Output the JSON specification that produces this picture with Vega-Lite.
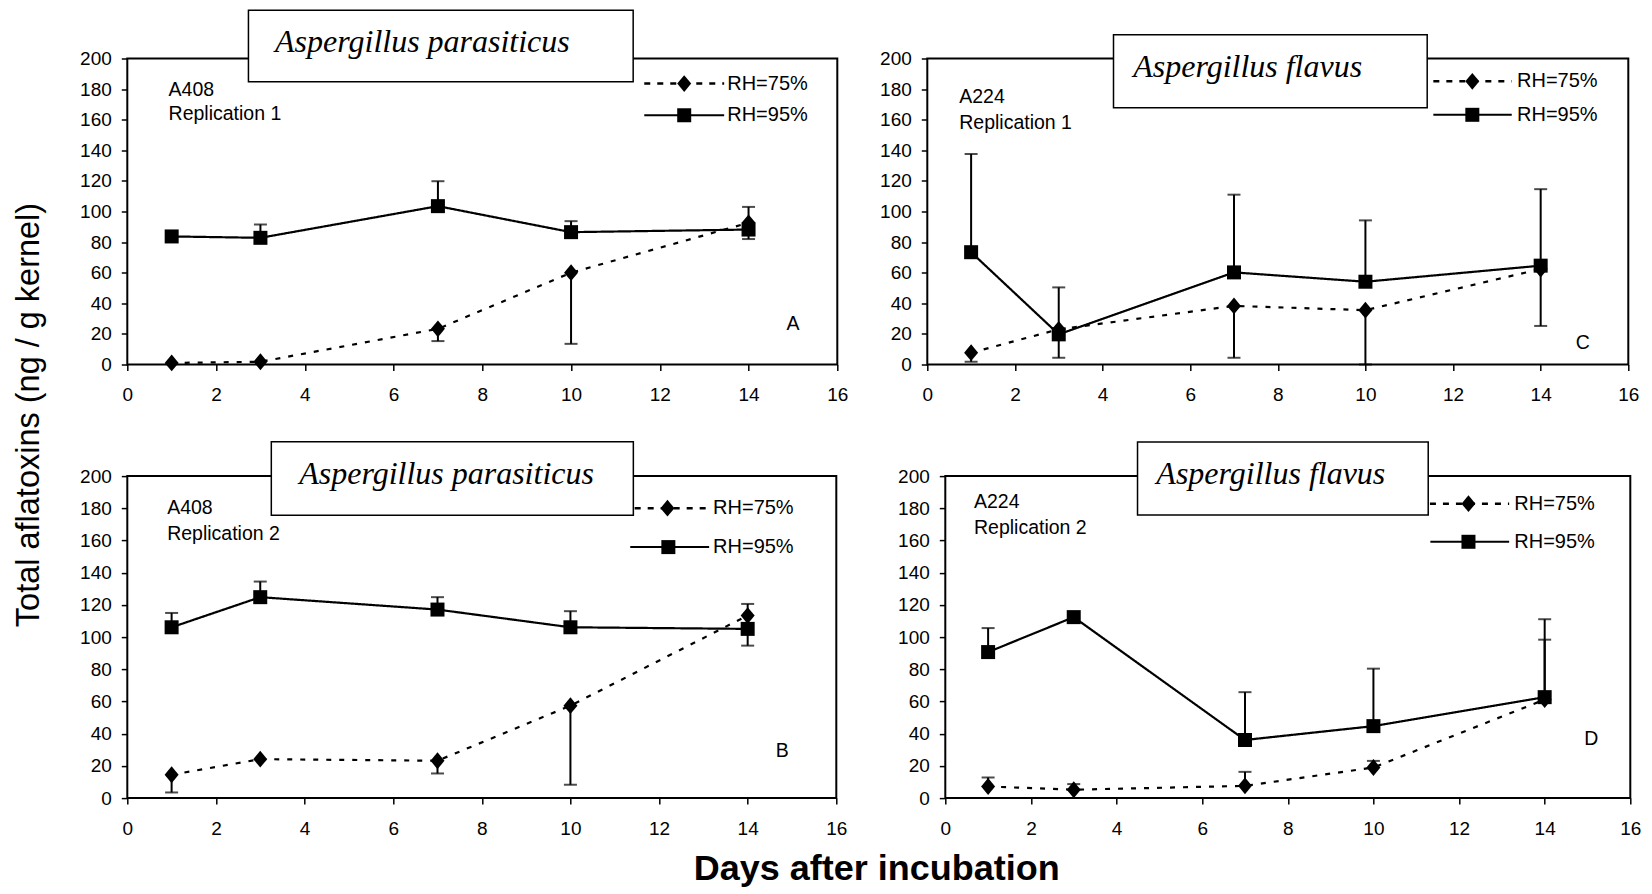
{
  "$schema": "https://vega.github.io/schema/vega-lite/v6.json",
  "background": "white",
  "padding": {"left": 10.3, "top": 7.5, "right": 5, "bottom": 5},
  "autosize": {"type": "pad"},
  "bounds": "flush",
  "spacing": 417.6,
  "config": {
    "view": {"stroke": "black", "strokeWidth": 2},
    "axis": {"domain": false, "grid": false, "ticks": true, "tickColor": "black", "tickWidth": 1.5, "tickSize": 6, "labelFont": "Liberation Sans", "labelFontSize": 19, "labelColor": "black", "labelFlush": false, "labelOverlap": false, "titleFont": "Liberation Sans", "titleColor": "black"},
    "axisY": {"labelPadding": 10, "tickCount": 11},
    "axisX": {"labelPadding": 15, "tickCount": 9},
    "text": {"font": "Liberation Sans", "color": "black"}
  },
  "datasets": {
    "main": [
      {"panel": "A", "rh": "RH=75%", "day": 1, "value": 1, "err": null},
      {"panel": "A", "rh": "RH=75%", "day": 3, "value": 1.8, "err": null},
      {"panel": "A", "rh": "RH=75%", "day": 7, "value": 23.3, "err": 15.3},
      {"panel": "A", "rh": "RH=75%", "day": 10, "value": 60, "err": 13.5},
      {"panel": "A", "rh": "RH=75%", "day": 14, "value": 92.6, "err": 82},
      {"panel": "A", "rh": "RH=95%", "day": 1, "value": 83.7, "err": null},
      {"panel": "A", "rh": "RH=95%", "day": 3, "value": 82.8, "err": 91.5},
      {"panel": "A", "rh": "RH=95%", "day": 7, "value": 103.5, "err": 119.8},
      {"panel": "A", "rh": "RH=95%", "day": 10, "value": 86.5, "err": 93.7},
      {"panel": "A", "rh": "RH=95%", "day": 14, "value": 88.2, "err": 103},
      {"panel": "B", "rh": "RH=75%", "day": 1, "value": 14.5, "err": 3.5},
      {"panel": "B", "rh": "RH=75%", "day": 3, "value": 24.2, "err": null},
      {"panel": "B", "rh": "RH=75%", "day": 7, "value": 23.2, "err": 15.3},
      {"panel": "B", "rh": "RH=75%", "day": 10, "value": 57.4, "err": 8.3},
      {"panel": "B", "rh": "RH=75%", "day": 14, "value": 113.4, "err": 94.7},
      {"panel": "B", "rh": "RH=95%", "day": 1, "value": 106.1, "err": 115},
      {"panel": "B", "rh": "RH=95%", "day": 3, "value": 124.8, "err": 134.5},
      {"panel": "B", "rh": "RH=95%", "day": 7, "value": 117.1, "err": 124.8},
      {"panel": "B", "rh": "RH=95%", "day": 10, "value": 106.1, "err": 116.1},
      {"panel": "B", "rh": "RH=95%", "day": 14, "value": 105.1, "err": 120.6},
      {"panel": "C", "rh": "RH=75%", "day": 1, "value": 7.7, "err": 1.8},
      {"panel": "C", "rh": "RH=75%", "day": 3, "value": 23, "err": 4.4},
      {"panel": "C", "rh": "RH=75%", "day": 7, "value": 38.3, "err": 4.4},
      {"panel": "C", "rh": "RH=75%", "day": 10, "value": 35.5, "err": 0},
      {"panel": "C", "rh": "RH=75%", "day": 14, "value": 62.4, "err": 25.2},
      {"panel": "C", "rh": "RH=95%", "day": 1, "value": 73.4, "err": 137.6},
      {"panel": "C", "rh": "RH=95%", "day": 3, "value": 19.7, "err": 50.4},
      {"panel": "C", "rh": "RH=95%", "day": 7, "value": 60.2, "err": 111},
      {"panel": "C", "rh": "RH=95%", "day": 10, "value": 54.1, "err": 94.2},
      {"panel": "C", "rh": "RH=95%", "day": 14, "value": 64.6, "err": 114.6},
      {"panel": "D", "rh": "RH=75%", "day": 1, "value": 7.2, "err": 12.8},
      {"panel": "D", "rh": "RH=75%", "day": 3, "value": 5.2, "err": 8.7},
      {"panel": "D", "rh": "RH=75%", "day": 7, "value": 7.6, "err": 16.3},
      {"panel": "D", "rh": "RH=75%", "day": 10, "value": 19, "err": 23.1},
      {"panel": "D", "rh": "RH=75%", "day": 14, "value": 61.2, "err": 98.4},
      {"panel": "D", "rh": "RH=95%", "day": 1, "value": 90.7, "err": 105.6},
      {"panel": "D", "rh": "RH=95%", "day": 3, "value": 112.4, "err": null},
      {"panel": "D", "rh": "RH=95%", "day": 7, "value": 36.1, "err": 65.8},
      {"panel": "D", "rh": "RH=95%", "day": 10, "value": 44.7, "err": 80.4},
      {"panel": "D", "rh": "RH=95%", "day": 14, "value": 62.7, "err": 111.1}
    ]
  },
  "data": {"name": "main"},
  "vconcat": [
    {
      "bounds": "flush",
      "spacing": 90,
      "hconcat": [
        {
          "width": 710, "height": 306,
          "transform": [{"filter": "datum.panel === 'A'"}],
          "layer": [
            {"mark": {"type": "line", "color": "black", "strokeWidth": 2.2},
             "encoding": {
               "x": {"field": "day", "type": "quantitative", "scale": {"domain": [0, 16], "nice": false}, "axis": {"values": [0, 2, 4, 6, 8, 10, 12, 14, 16], "tickCount": 9, "title": null, "labelOverlap": false}},
               "y": {"field": "value", "type": "quantitative", "scale": {"domain": [0, 200], "nice": false}, "axis": {"values": [0, 20, 40, 60, 80, 100, 120, 140, 160, 180, 200], "tickCount": 11, "labelOverlap": false, "title": "Total aflatoxins (ng / g kernel)", "titleFontSize": 32.5, "titleFontWeight": "normal", "titleX": -89.2, "titleY": 356, "titleAngle": -90, "titleBaseline": "alphabetic", "titleAlign": "center"}},
               "strokeDash": {"field": "rh", "type": "nominal", "scale": {"domain": ["RH=75%", "RH=95%"], "range": [[5, 8], [1, 0]]}, "legend": null}
             }},
            {"transform": [{"filter": "isValid(datum.err)"}], "mark": {"type": "rule", "color": "black", "strokeWidth": 2},
             "encoding": {"x": {"field": "day", "type": "quantitative"}, "y": {"field": "value", "type": "quantitative"}, "y2": {"field": "err"}}},
            {"transform": [{"filter": "isValid(datum.err)"}], "mark": {"type": "tick", "orient": "horizontal", "color": "black", "thickness": 2, "size": 13},
             "encoding": {"x": {"field": "day", "type": "quantitative"}, "y": {"field": "err", "type": "quantitative"}}},
            {"mark": {"type": "point", "filled": true, "color": "black", "opacity": 1, "strokeWidth": 0, "size": 196},
             "encoding": {"x": {"field": "day", "type": "quantitative"}, "y": {"field": "value", "type": "quantitative"},
               "shape": {"field": "rh", "type": "nominal", "scale": {"domain": ["RH=75%", "RH=95%"], "range": ["M0,-1.2L1,0L0,1.2L-1,0Z", "square"]}, "legend": null}}},
            {"data": {"values": [{}]}, "mark": {"type": "rule", "color": "black", "strokeWidth": 2.5, "strokeDash": [6, 7]},
             "encoding": {"x": {"datum": 11.65, "type": "quantitative"}, "x2": {"datum": 13.45}, "y": {"datum": 183.6, "type": "quantitative"}}},
            {"data": {"values": [{}]}, "mark": {"type": "rule", "color": "black", "strokeWidth": 2},
             "encoding": {"x": {"datum": 11.65, "type": "quantitative"}, "x2": {"datum": 13.45}, "y": {"datum": 162.9, "type": "quantitative"}}},
            {"data": {"values": [{}]}, "mark": {"type": "point", "filled": true, "color": "black", "opacity": 1, "strokeWidth": 0, "size": 196, "shape": "M0,-1.2L1,0L0,1.2L-1,0Z"},
             "encoding": {"x": {"datum": 12.55, "type": "quantitative"}, "y": {"datum": 183.6, "type": "quantitative"}}},
            {"data": {"values": [{}]}, "mark": {"type": "point", "filled": true, "color": "black", "opacity": 1, "strokeWidth": 0, "size": 196, "shape": "square"},
             "encoding": {"x": {"datum": 12.55, "type": "quantitative"}, "y": {"datum": 162.9, "type": "quantitative"}}},
            {"data": {"values": [{}]}, "mark": {"type": "text", "fontSize": 20, "align": "left", "baseline": "middle"},
             "encoding": {"x": {"datum": 13.52, "type": "quantitative"}, "y": {"datum": 183.6, "type": "quantitative"}, "text": {"value": "RH=75%"}}},
            {"data": {"values": [{}]}, "mark": {"type": "text", "fontSize": 20, "align": "left", "baseline": "middle"},
             "encoding": {"x": {"datum": 13.52, "type": "quantitative"}, "y": {"datum": 162.9, "type": "quantitative"}, "text": {"value": "RH=95%"}}},
            {"data": {"values": [{}]}, "mark": {"type": "rect", "fill": "white", "stroke": "black", "strokeWidth": 1.5},
             "encoding": {"x": {"datum": 2.73, "type": "quantitative"}, "x2": {"datum": 11.4}, "y": {"datum": 231.6, "type": "quantitative"}, "y2": {"datum": 184.8}}},
            {"data": {"values": [{}]}, "mark": {"type": "text", "font": "Liberation Serif", "fontStyle": "italic", "fontSize": 32, "align": "left", "baseline": "alphabetic"},
             "encoding": {"x": {"datum": 3.33, "type": "quantitative"}, "y": {"datum": 204.4, "type": "quantitative"}, "text": {"value": "Aspergillus parasiticus"}}},
            {"data": {"values": [{}]}, "mark": {"type": "text", "fontSize": 19.5, "align": "left", "baseline": "middle"},
             "encoding": {"x": {"datum": 0.93, "type": "quantitative"}, "y": {"datum": 179.5, "type": "quantitative"}, "text": {"value": "A408"}}},
            {"data": {"values": [{}]}, "mark": {"type": "text", "fontSize": 19.5, "align": "left", "baseline": "middle"},
             "encoding": {"x": {"datum": 0.93, "type": "quantitative"}, "y": {"datum": 163.5, "type": "quantitative"}, "text": {"value": "Replication 1"}}},
            {"data": {"values": [{}]}, "mark": {"type": "text", "fontSize": 19.5, "align": "center", "baseline": "middle"},
             "encoding": {"x": {"datum": 15.0, "type": "quantitative"}, "y": {"datum": 26.6, "type": "quantitative"}, "text": {"value": "A"}}}
          ]
        },
        {
          "width": 701, "height": 306,
          "transform": [{"filter": "datum.panel === 'C'"}],
          "layer": [
            {"mark": {"type": "line", "color": "black", "strokeWidth": 2.2},
             "encoding": {
               "x": {"field": "day", "type": "quantitative", "scale": {"domain": [0, 16], "nice": false}, "axis": {"values": [0, 2, 4, 6, 8, 10, 12, 14, 16], "tickCount": 9, "title": null, "labelOverlap": false}},
               "y": {"field": "value", "type": "quantitative", "scale": {"domain": [0, 200], "nice": false}, "axis": {"values": [0, 20, 40, 60, 80, 100, 120, 140, 160, 180, 200], "tickCount": 11, "title": null, "labelOverlap": false}},
               "strokeDash": {"field": "rh", "type": "nominal", "scale": {"domain": ["RH=75%", "RH=95%"], "range": [[5, 8], [1, 0]]}, "legend": null}
             }},
            {"transform": [{"filter": "isValid(datum.err)"}], "mark": {"type": "rule", "color": "black", "strokeWidth": 2},
             "encoding": {"x": {"field": "day", "type": "quantitative"}, "y": {"field": "value", "type": "quantitative"}, "y2": {"field": "err"}}},
            {"transform": [{"filter": "isValid(datum.err)"}], "mark": {"type": "tick", "orient": "horizontal", "color": "black", "thickness": 2, "size": 13},
             "encoding": {"x": {"field": "day", "type": "quantitative"}, "y": {"field": "err", "type": "quantitative"}}},
            {"mark": {"type": "point", "filled": true, "color": "black", "opacity": 1, "strokeWidth": 0, "size": 196},
             "encoding": {"x": {"field": "day", "type": "quantitative"}, "y": {"field": "value", "type": "quantitative"},
               "shape": {"field": "rh", "type": "nominal", "scale": {"domain": ["RH=75%", "RH=95%"], "range": ["M0,-1.2L1,0L0,1.2L-1,0Z", "square"]}, "legend": null}}},
            {"data": {"values": [{}]}, "mark": {"type": "rule", "color": "black", "strokeWidth": 2.5, "strokeDash": [6, 7]},
             "encoding": {"x": {"datum": 11.55, "type": "quantitative"}, "x2": {"datum": 13.34}, "y": {"datum": 185.1, "type": "quantitative"}}},
            {"data": {"values": [{}]}, "mark": {"type": "rule", "color": "black", "strokeWidth": 2},
             "encoding": {"x": {"datum": 11.55, "type": "quantitative"}, "x2": {"datum": 13.34}, "y": {"datum": 163.2, "type": "quantitative"}}},
            {"data": {"values": [{}]}, "mark": {"type": "point", "filled": true, "color": "black", "opacity": 1, "strokeWidth": 0, "size": 196, "shape": "M0,-1.2L1,0L0,1.2L-1,0Z"},
             "encoding": {"x": {"datum": 12.44, "type": "quantitative"}, "y": {"datum": 185.1, "type": "quantitative"}}},
            {"data": {"values": [{}]}, "mark": {"type": "point", "filled": true, "color": "black", "opacity": 1, "strokeWidth": 0, "size": 196, "shape": "square"},
             "encoding": {"x": {"datum": 12.44, "type": "quantitative"}, "y": {"datum": 163.2, "type": "quantitative"}}},
            {"data": {"values": [{}]}, "mark": {"type": "text", "fontSize": 20, "align": "left", "baseline": "middle"},
             "encoding": {"x": {"datum": 13.46, "type": "quantitative"}, "y": {"datum": 185.1, "type": "quantitative"}, "text": {"value": "RH=75%"}}},
            {"data": {"values": [{}]}, "mark": {"type": "text", "fontSize": 20, "align": "left", "baseline": "middle"},
             "encoding": {"x": {"datum": 13.46, "type": "quantitative"}, "y": {"datum": 163.2, "type": "quantitative"}, "text": {"value": "RH=95%"}}},
            {"data": {"values": [{}]}, "mark": {"type": "rect", "fill": "white", "stroke": "black", "strokeWidth": 1.5},
             "encoding": {"x": {"datum": 4.25, "type": "quantitative"}, "x2": {"datum": 11.41}, "y": {"datum": 215.6, "type": "quantitative"}, "y2": {"datum": 167.8}}},
            {"data": {"values": [{}]}, "mark": {"type": "text", "font": "Liberation Serif", "fontStyle": "italic", "fontSize": 32, "align": "left", "baseline": "alphabetic"},
             "encoding": {"x": {"datum": 4.7, "type": "quantitative"}, "y": {"datum": 187.9, "type": "quantitative"}, "text": {"value": "Aspergillus flavus"}}},
            {"data": {"values": [{}]}, "mark": {"type": "text", "fontSize": 19.5, "align": "left", "baseline": "middle"},
             "encoding": {"x": {"datum": 0.73, "type": "quantitative"}, "y": {"datum": 174.6, "type": "quantitative"}, "text": {"value": "A224"}}},
            {"data": {"values": [{}]}, "mark": {"type": "text", "fontSize": 19.5, "align": "left", "baseline": "middle"},
             "encoding": {"x": {"datum": 0.73, "type": "quantitative"}, "y": {"datum": 157.7, "type": "quantitative"}, "text": {"value": "Replication 1"}}},
            {"data": {"values": [{}]}, "mark": {"type": "text", "fontSize": 19.5, "align": "center", "baseline": "middle"},
             "encoding": {"x": {"datum": 14.96, "type": "quantitative"}, "y": {"datum": 14.2, "type": "quantitative"}, "text": {"value": "C"}}}
          ]
        }
      ]
    },
    {
      "bounds": "flush",
      "spacing": 109,
      "hconcat": [
        {
          "width": 709, "height": 322,
          "transform": [{"filter": "datum.panel === 'B'"}],
          "layer": [
            {"mark": {"type": "line", "color": "black", "strokeWidth": 2.2},
             "encoding": {
               "x": {"field": "day", "type": "quantitative", "scale": {"domain": [0, 16], "nice": false}, "axis": {"values": [0, 2, 4, 6, 8, 10, 12, 14, 16], "tickCount": 9, "labelOverlap": false, "title": "Days after incubation", "titleFontSize": 36, "titleFontWeight": "bold", "titleX": 749, "titleY": 81, "titleAngle": 0, "titleBaseline": "alphabetic", "titleAlign": "center"}},
               "y": {"field": "value", "type": "quantitative", "scale": {"domain": [0, 200], "nice": false}, "axis": {"values": [0, 20, 40, 60, 80, 100, 120, 140, 160, 180, 200], "tickCount": 11, "title": null, "labelOverlap": false}},
               "strokeDash": {"field": "rh", "type": "nominal", "scale": {"domain": ["RH=75%", "RH=95%"], "range": [[5, 8], [1, 0]]}, "legend": null}
             }},
            {"transform": [{"filter": "isValid(datum.err)"}], "mark": {"type": "rule", "color": "black", "strokeWidth": 2},
             "encoding": {"x": {"field": "day", "type": "quantitative"}, "y": {"field": "value", "type": "quantitative"}, "y2": {"field": "err"}}},
            {"transform": [{"filter": "isValid(datum.err)"}], "mark": {"type": "tick", "orient": "horizontal", "color": "black", "thickness": 2, "size": 13},
             "encoding": {"x": {"field": "day", "type": "quantitative"}, "y": {"field": "err", "type": "quantitative"}}},
            {"mark": {"type": "point", "filled": true, "color": "black", "opacity": 1, "strokeWidth": 0, "size": 196},
             "encoding": {"x": {"field": "day", "type": "quantitative"}, "y": {"field": "value", "type": "quantitative"},
               "shape": {"field": "rh", "type": "nominal", "scale": {"domain": ["RH=75%", "RH=95%"], "range": ["M0,-1.2L1,0L0,1.2L-1,0Z", "square"]}, "legend": null}}},
            {"data": {"values": [{}]}, "mark": {"type": "rule", "color": "black", "strokeWidth": 2.5, "strokeDash": [6, 7]},
             "encoding": {"x": {"datum": 11.45, "type": "quantitative"}, "x2": {"datum": 13.13}, "y": {"datum": 180.1, "type": "quantitative"}}},
            {"data": {"values": [{}]}, "mark": {"type": "rule", "color": "black", "strokeWidth": 2},
             "encoding": {"x": {"datum": 11.35, "type": "quantitative"}, "x2": {"datum": 13.13}, "y": {"datum": 155.9, "type": "quantitative"}}},
            {"data": {"values": [{}]}, "mark": {"type": "point", "filled": true, "color": "black", "opacity": 1, "strokeWidth": 0, "size": 196, "shape": "M0,-1.2L1,0L0,1.2L-1,0Z"},
             "encoding": {"x": {"datum": 12.19, "type": "quantitative"}, "y": {"datum": 180.1, "type": "quantitative"}}},
            {"data": {"values": [{}]}, "mark": {"type": "point", "filled": true, "color": "black", "opacity": 1, "strokeWidth": 0, "size": 196, "shape": "square"},
             "encoding": {"x": {"datum": 12.21, "type": "quantitative"}, "y": {"datum": 155.9, "type": "quantitative"}}},
            {"data": {"values": [{}]}, "mark": {"type": "text", "fontSize": 20, "align": "left", "baseline": "middle"},
             "encoding": {"x": {"datum": 13.22, "type": "quantitative"}, "y": {"datum": 180.1, "type": "quantitative"}, "text": {"value": "RH=75%"}}},
            {"data": {"values": [{}]}, "mark": {"type": "text", "fontSize": 20, "align": "left", "baseline": "middle"},
             "encoding": {"x": {"datum": 13.22, "type": "quantitative"}, "y": {"datum": 155.9, "type": "quantitative"}, "text": {"value": "RH=95%"}}},
            {"data": {"values": [{}]}, "mark": {"type": "rect", "fill": "white", "stroke": "black", "strokeWidth": 1.5},
             "encoding": {"x": {"datum": 3.25, "type": "quantitative"}, "x2": {"datum": 11.42}, "y": {"datum": 221.3, "type": "quantitative"}, "y2": {"datum": 175.7}}},
            {"data": {"values": [{}]}, "mark": {"type": "text", "font": "Liberation Serif", "fontStyle": "italic", "fontSize": 32, "align": "left", "baseline": "alphabetic"},
             "encoding": {"x": {"datum": 3.88, "type": "quantitative"}, "y": {"datum": 194.8, "type": "quantitative"}, "text": {"value": "Aspergillus parasiticus"}}},
            {"data": {"values": [{}]}, "mark": {"type": "text", "fontSize": 19.5, "align": "left", "baseline": "middle"},
             "encoding": {"x": {"datum": 0.9, "type": "quantitative"}, "y": {"datum": 180.1, "type": "quantitative"}, "text": {"value": "A408"}}},
            {"data": {"values": [{}]}, "mark": {"type": "text", "fontSize": 19.5, "align": "left", "baseline": "middle"},
             "encoding": {"x": {"datum": 0.9, "type": "quantitative"}, "y": {"datum": 164.1, "type": "quantitative"}, "text": {"value": "Replication 2"}}},
            {"data": {"values": [{}]}, "mark": {"type": "text", "fontSize": 19.5, "align": "center", "baseline": "middle"},
             "encoding": {"x": {"datum": 14.78, "type": "quantitative"}, "y": {"datum": 29.4, "type": "quantitative"}, "text": {"value": "B"}}}
          ]
        },
        {
          "width": 685, "height": 322,
          "transform": [{"filter": "datum.panel === 'D'"}],
          "layer": [
            {"mark": {"type": "line", "color": "black", "strokeWidth": 2.2},
             "encoding": {
               "x": {"field": "day", "type": "quantitative", "scale": {"domain": [0, 16], "nice": false}, "axis": {"values": [0, 2, 4, 6, 8, 10, 12, 14, 16], "tickCount": 9, "title": null, "labelOverlap": false}},
               "y": {"field": "value", "type": "quantitative", "scale": {"domain": [0, 200], "nice": false}, "axis": {"values": [0, 20, 40, 60, 80, 100, 120, 140, 160, 180, 200], "tickCount": 11, "title": null, "labelOverlap": false}},
               "strokeDash": {"field": "rh", "type": "nominal", "scale": {"domain": ["RH=75%", "RH=95%"], "range": [[5, 8], [1, 0]]}, "legend": null}
             }},
            {"transform": [{"filter": "isValid(datum.err)"}], "mark": {"type": "rule", "color": "black", "strokeWidth": 2},
             "encoding": {"x": {"field": "day", "type": "quantitative"}, "y": {"field": "value", "type": "quantitative"}, "y2": {"field": "err"}}},
            {"transform": [{"filter": "isValid(datum.err)"}], "mark": {"type": "tick", "orient": "horizontal", "color": "black", "thickness": 2, "size": 13},
             "encoding": {"x": {"field": "day", "type": "quantitative"}, "y": {"field": "err", "type": "quantitative"}}},
            {"mark": {"type": "point", "filled": true, "color": "black", "opacity": 1, "strokeWidth": 0, "size": 196},
             "encoding": {"x": {"field": "day", "type": "quantitative"}, "y": {"field": "value", "type": "quantitative"},
               "shape": {"field": "rh", "type": "nominal", "scale": {"domain": ["RH=75%", "RH=95%"], "range": ["M0,-1.2L1,0L0,1.2L-1,0Z", "square"]}, "legend": null}}},
            {"data": {"values": [{}]}, "mark": {"type": "rule", "color": "black", "strokeWidth": 2.5, "strokeDash": [6, 7]},
             "encoding": {"x": {"datum": 11.32, "type": "quantitative"}, "x2": {"datum": 13.17}, "y": {"datum": 182.9, "type": "quantitative"}}},
            {"data": {"values": [{}]}, "mark": {"type": "rule", "color": "black", "strokeWidth": 2},
             "encoding": {"x": {"datum": 11.33, "type": "quantitative"}, "x2": {"datum": 13.17}, "y": {"datum": 159.2, "type": "quantitative"}}},
            {"data": {"values": [{}]}, "mark": {"type": "point", "filled": true, "color": "black", "opacity": 1, "strokeWidth": 0, "size": 196, "shape": "M0,-1.2L1,0L0,1.2L-1,0Z"},
             "encoding": {"x": {"datum": 12.22, "type": "quantitative"}, "y": {"datum": 182.9, "type": "quantitative"}}},
            {"data": {"values": [{}]}, "mark": {"type": "point", "filled": true, "color": "black", "opacity": 1, "strokeWidth": 0, "size": 196, "shape": "square"},
             "encoding": {"x": {"datum": 12.22, "type": "quantitative"}, "y": {"datum": 159.2, "type": "quantitative"}}},
            {"data": {"values": [{}]}, "mark": {"type": "text", "fontSize": 20, "align": "left", "baseline": "middle"},
             "encoding": {"x": {"datum": 13.29, "type": "quantitative"}, "y": {"datum": 182.9, "type": "quantitative"}, "text": {"value": "RH=75%"}}},
            {"data": {"values": [{}]}, "mark": {"type": "text", "fontSize": 20, "align": "left", "baseline": "middle"},
             "encoding": {"x": {"datum": 13.29, "type": "quantitative"}, "y": {"datum": 159.2, "type": "quantitative"}, "text": {"value": "RH=95%"}}},
            {"data": {"values": [{}]}, "mark": {"type": "rect", "fill": "white", "stroke": "black", "strokeWidth": 1.5},
             "encoding": {"x": {"datum": 4.49, "type": "quantitative"}, "x2": {"datum": 11.28}, "y": {"datum": 221.2, "type": "quantitative"}, "y2": {"datum": 175.9}}},
            {"data": {"values": [{}]}, "mark": {"type": "text", "font": "Liberation Serif", "fontStyle": "italic", "fontSize": 32, "align": "left", "baseline": "alphabetic"},
             "encoding": {"x": {"datum": 4.93, "type": "quantitative"}, "y": {"datum": 194.9, "type": "quantitative"}, "text": {"value": "Aspergillus flavus"}}},
            {"data": {"values": [{}]}, "mark": {"type": "text", "fontSize": 19.5, "align": "left", "baseline": "middle"},
             "encoding": {"x": {"datum": 0.67, "type": "quantitative"}, "y": {"datum": 183.9, "type": "quantitative"}, "text": {"value": "A224"}}},
            {"data": {"values": [{}]}, "mark": {"type": "text", "fontSize": 19.5, "align": "left", "baseline": "middle"},
             "encoding": {"x": {"datum": 0.67, "type": "quantitative"}, "y": {"datum": 167.8, "type": "quantitative"}, "text": {"value": "Replication 2"}}},
            {"data": {"values": [{}]}, "mark": {"type": "text", "fontSize": 19.5, "align": "center", "baseline": "middle"},
             "encoding": {"x": {"datum": 15.09, "type": "quantitative"}, "y": {"datum": 36.5, "type": "quantitative"}, "text": {"value": "D"}}}
          ]
        }
      ]
    }
  ]
}
